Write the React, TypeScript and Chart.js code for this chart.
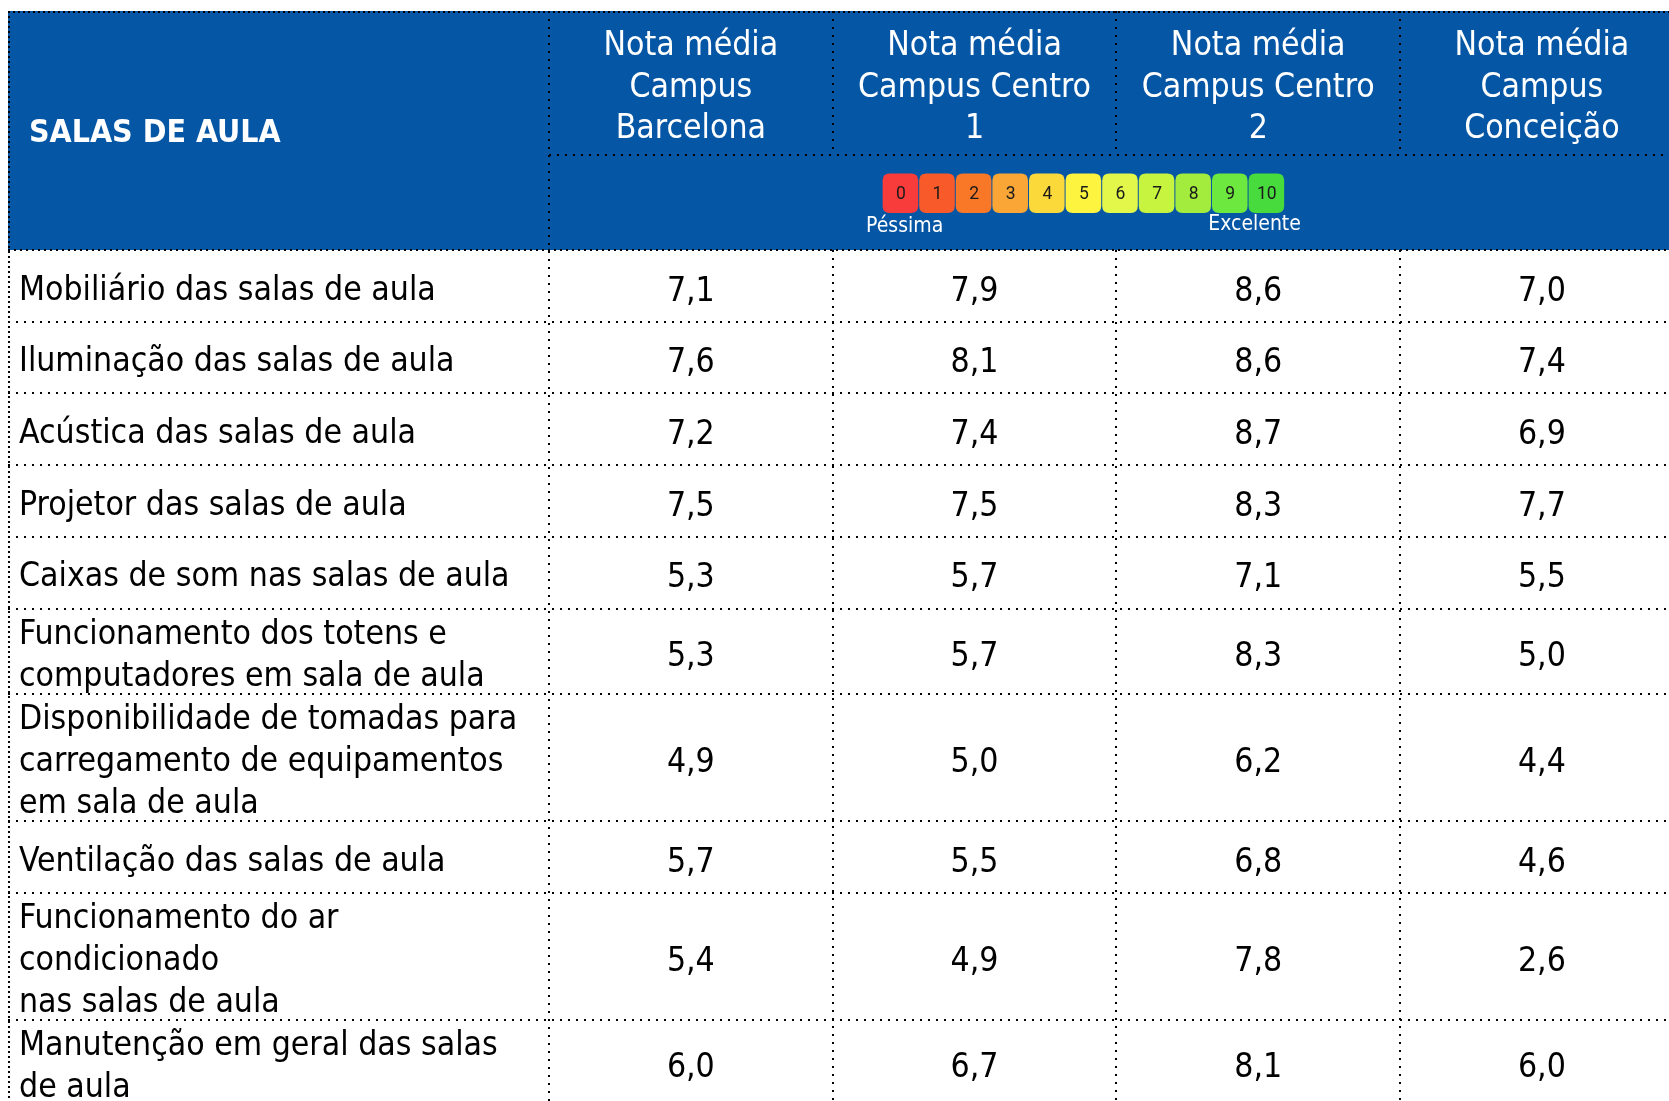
import React, { useEffect, useRef } from "react";
import { Chart, registerables } from "chart.js";

Chart.register(...registerables);

// ---------- data ----------
const tableTitle = "SALAS DE AULA";
const campusHeaders = [
  "Nota média\nCampus\nBarcelona",
  "Nota média\nCampus Centro\n1",
  "Nota média\nCampus Centro\n2",
  "Nota média\nCampus\nConceição",
];
const items = [
  "Mobiliário das salas de aula",
  "Iluminação das salas de aula",
  "Acústica das salas de aula",
  "Projetor das salas de aula",
  "Caixas de som nas salas de aula",
  "Funcionamento dos totens e\ncomputadores em sala de aula",
  "Disponibilidade de tomadas para\ncarregamento de equipamentos\nem sala de aula",
  "Ventilação das salas de aula",
  "Funcionamento do ar\ncondicionado\nnas salas de aula",
  "Manutenção em geral das salas\nde aula",
];
const barcelona = [7.1, 7.6, 7.2, 7.5, 5.3, 5.3, 4.9, 5.7, 5.4, 6.0];
const centro1 = [7.9, 8.1, 7.4, 7.5, 5.7, 5.7, 5.0, 5.5, 4.9, 6.7];
const centro2 = [8.6, 8.6, 8.7, 8.3, 7.1, 8.3, 6.2, 6.8, 7.8, 8.1];
const conceicao = [7.0, 7.4, 6.9, 7.7, 5.5, 5.0, 4.4, 4.6, 2.6, 6.0];
const seriesValues = [barcelona, centro1, centro2, conceicao];

const ratingTicks = ["0", "1", "2", "3", "4", "5", "6", "7", "8", "9", "10"];
const ratingColors = [
  "#F83B3B", "#F95A2A", "#F97828", "#FAA636", "#FCD93B", "#FCF43F",
  "#E2F74A", "#C7F43E", "#A3EC3E", "#6CE83E", "#48DB3E",
];
const ratingLow = "Péssima";
const ratingHigh = "Excelente";

// ---------- layout (scale units) ----------
const W = 1669;
const H = 1101;
const FIRST_COL = 1.907; // width of label column, in value-column units
const XMAX = 5.855;
const YMAX = 1090;
const HEADER_TOP = 144;
const HEADER_BOTTOM = 95;
const HEADER_H = HEADER_TOP + HEADER_BOTTOM;
const LINE = 41.7;
const MIN_ROW = 71.7;

const rowLines = items.map((s) => s.split("\n").length);
const rowHeights = rowLines.map((n) => Math.max(MIN_ROW, n * LINE + 2));
const rowTops: number[] = [];
{
  let acc = HEADER_H;
  for (const h of rowHeights) {
    rowTops.push(acc);
    acc += h;
  }
}
const rowCenters = rowTops.map((t, i) => t + rowHeights[i] / 2);

const FONT = "'DejaVu Sans Condensed', 'DejaVu Sans', sans-serif";
const BLUE = "#0656A6";
const TEXT_PX = 33.5;

function fmt(v: number) {
  return v.toFixed(1).replace(".", ",");
}

function dottedLine(ctx: CanvasRenderingContext2D, x1: number, y1: number, x2: number, y2: number, gap = 6) {
  ctx.save();
  ctx.strokeStyle = "#000";
  ctx.lineWidth = 2;
  ctx.setLineDash([2, gap]);
  ctx.beginPath();
  ctx.moveTo(x1, y1);
  ctx.lineTo(x2, y2);
  ctx.stroke();
  ctx.restore();
}

function roundRect(ctx: CanvasRenderingContext2D, x: number, y: number, w: number, h: number, r: number) {
  ctx.beginPath();
  ctx.moveTo(x + r, y);
  ctx.lineTo(x + w - r, y);
  ctx.quadraticCurveTo(x + w, y, x + w, y + r);
  ctx.lineTo(x + w, y + h - r);
  ctx.quadraticCurveTo(x + w, y + h, x + w - r, y + h);
  ctx.lineTo(x + r, y + h);
  ctx.quadraticCurveTo(x, y + h, x, y + h - r);
  ctx.lineTo(x, y + r);
  ctx.quadraticCurveTo(x, y, x + r, y);
  ctx.closePath();
}

const tablePlugin = {
  id: "tablePlugin",
  beforeDatasetsDraw(chart: any) {
    const { ctx } = chart;
    const xs = chart.scales.x;
    const ys = chart.scales.y;
    const x0 = xs.getPixelForValue(0);
    const x1 = xs.getPixelForValue(XMAX);
    const y0 = ys.getPixelForValue(0);
    const y1 = ys.getPixelForValue(HEADER_H);
    ctx.save();
    ctx.fillStyle = "#fff";
    ctx.fillRect(0, 0, W, H);
    ctx.fillStyle = BLUE;
    ctx.fillRect(x0, y0, x1 - x0, y1 - y0);
    ctx.restore();
  },
  afterDatasetsDraw(chart: any) {
    const { ctx } = chart;
    const xs = chart.scales.x;
    const ys = chart.scales.y;
    const px = (v: number) => xs.getPixelForValue(v);
    const py = (v: number) => ys.getPixelForValue(v);

    ctx.save();
    // Title
    ctx.fillStyle = "#fff";
    ctx.font = `bold 31.8px ${FONT}`;
    ctx.textBaseline = "middle";
    ctx.textAlign = "left";
    ctx.fillText(tableTitle, px(0) + 21, py(HEADER_H / 2) + 3);

    // Column headers
    ctx.font = `${TEXT_PX}px ${FONT}`;
    ctx.textAlign = "center";
    campusHeaders.forEach((h, i) => {
      const cx = px(FIRST_COL + i + 0.5);
      const lines = h.split("\n");
      const cy = py(HEADER_TOP / 2);
      lines.forEach((ln, k) => {
        ctx.fillText(ln, cx, cy + (k - (lines.length - 1) / 2) * LINE + 5);
      });
    });

    // Rating legend
    const sqW = 0.129;
    const legStart = FIRST_COL + 1.176;
    const sqTop = py(162.5);
    const sqH = py(202) - sqTop;
    ratingTicks.forEach((t, i) => {
      const a = px(legStart + i * sqW);
      const b = px(legStart + (i + 1) * sqW);
      ctx.fillStyle = ratingColors[i];
      roundRect(ctx, a, sqTop, b - a - 1, sqH, 7);
      ctx.fill();
      ctx.fillStyle = "#1a1a1a";
      ctx.font = `17.5px Roboto, 'Liberation Sans', sans-serif`;
      ctx.textAlign = "center";
      ctx.textBaseline = "middle";
      ctx.fillText(t, (a + b) / 2, sqTop + sqH / 2 + 1);
    });
    ctx.fillStyle = "#fff";
    ctx.font = `21px ${FONT}`;
    ctx.textAlign = "center";
    ctx.fillText(ratingLow, px(legStart) + 22, py(214) + 2);
    ctx.fillText(ratingHigh, px(legStart + 10 * sqW) + 6, py(212) + 2);

    // Row labels
    ctx.fillStyle = "#000";
    ctx.font = `${TEXT_PX}px ${FONT}`;
    ctx.textAlign = "left";
    ctx.textBaseline = "middle";
    items.forEach((s, r) => {
      const lines = s.split("\n");
      const cy = py(rowCenters[r]);
      lines.forEach((ln, k) => {
        ctx.fillText(ln, px(0) + 11, cy + (k - (lines.length - 1) / 2) * LINE + 5);
      });
    });

    // Values from dataset elements
    ctx.textAlign = "center";
    chart.data.datasets.forEach((ds: any, i: number) => {
      const meta = chart.getDatasetMeta(i);
      meta.data.forEach((el: any, j: number) => {
        ctx.fillText(fmt(ds.data[j].v), el.x, el.y + 6);
      });
    });

    // Borders
    const xl = px(0);
    const xr = px(XMAX);
    const yt = py(0);
    const yb = py(YMAX);
    dottedLine(ctx, Math.round(xl) + 1, yt, Math.round(xl) + 1, yb, 3);
    dottedLine(ctx, xl, Math.round(yt) + 1, xr, Math.round(yt) + 1, 3);
    // header sub divider
    dottedLine(ctx, px(FIRST_COL), Math.round(py(HEADER_TOP)), xr, Math.round(py(HEADER_TOP)));
    // header bottom
    dottedLine(ctx, xl, Math.round(py(HEADER_H)), xr, Math.round(py(HEADER_H)), 4);
    // row bottoms
    rowTops.forEach((t, r) => {
      const yy = Math.round(py(t + rowHeights[r]));
      dottedLine(ctx, xl, yy, xr, yy);
    });
    // vertical dividers
    for (let c = 0; c < campusHeaders.length; c++) {
      const xx = Math.round(px(FIRST_COL + c));
      const top = c === 0 ? yt : py(HEADER_H);
      dottedLine(ctx, xx, top, xx, yb);
      if (c > 0) dottedLine(ctx, xx, yt, xx, py(HEADER_TOP));
    }
    ctx.restore();
  },
};

export default function App() {
  const ref = useRef<HTMLCanvasElement>(null);
  useEffect(() => {
    const canvas = ref.current;
    if (!canvas) return;
    const datasets = seriesValues.map((vals, i) => ({
      label: campusHeaders[i],
      data: vals.map((v, r) => ({ x: FIRST_COL + i + 0.5, y: rowCenters[r], v })),
      pointRadius: 0,
      showLine: false,
    }));
    const chart = new Chart(canvas, {
      type: "scatter",
      data: { datasets: datasets as any },
      options: {
        animation: false,
        responsive: false,
        devicePixelRatio: 1,
        events: [],
        layout: { padding: { left: 8, top: 11, right: 0, bottom: 0 } },
        plugins: { legend: { display: false }, tooltip: { enabled: false } },
        scales: {
          x: { type: "linear", display: false, min: 0, max: XMAX },
          y: { type: "linear", display: false, min: 0, max: YMAX, reverse: true },
        },
      },
      plugins: [tablePlugin],
    });
    return () => chart.destroy();
  }, []);
  return (
    <div style={{ position: "fixed", left: 0, top: 0, width: W, height: H, background: "#fff" }}>
      <canvas ref={ref} width={W} height={H} style={{ display: "block", width: W, height: H }} />
    </div>
  );
}
